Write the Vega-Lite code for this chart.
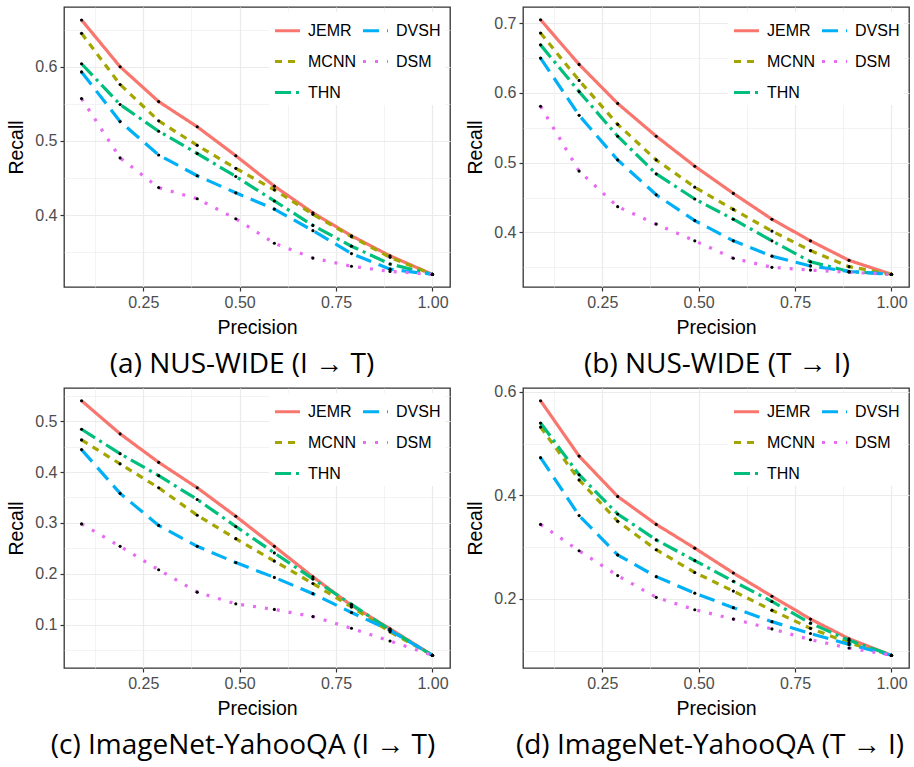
{
"$schema": "https://vega.github.io/schema/vega-lite/v6.json",
"background": "white",
"padding": {"left": 6, "top": 6, "right": 0, "bottom": 0},
"autosize": {"type": "pad"},
"datasets": {"pr": [
{"p":"a","m":"JEMR","x":0.09,"y":0.663},{"p":"a","m":"JEMR","x":0.19,"y":0.600},{"p":"a","m":"JEMR","x":0.29,"y":0.553},{"p":"a","m":"JEMR","x":0.39,"y":0.519},{"p":"a","m":"JEMR","x":0.49,"y":0.480},{"p":"a","m":"JEMR","x":0.59,"y":0.439},{"p":"a","m":"JEMR","x":0.69,"y":0.403},{"p":"a","m":"JEMR","x":0.79,"y":0.372},{"p":"a","m":"JEMR","x":0.89,"y":0.345},{"p":"a","m":"JEMR","x":1.0,"y":0.320},
{"p":"a","m":"MCNN","x":0.09,"y":0.645},{"p":"a","m":"MCNN","x":0.19,"y":0.576},{"p":"a","m":"MCNN","x":0.29,"y":0.527},{"p":"a","m":"MCNN","x":0.39,"y":0.494},{"p":"a","m":"MCNN","x":0.49,"y":0.463},{"p":"a","m":"MCNN","x":0.59,"y":0.434},{"p":"a","m":"MCNN","x":0.69,"y":0.401},{"p":"a","m":"MCNN","x":0.79,"y":0.371},{"p":"a","m":"MCNN","x":0.89,"y":0.343},{"p":"a","m":"MCNN","x":1.0,"y":0.320},
{"p":"a","m":"THN","x":0.09,"y":0.604},{"p":"a","m":"THN","x":0.19,"y":0.549},{"p":"a","m":"THN","x":0.29,"y":0.513},{"p":"a","m":"THN","x":0.39,"y":0.483},{"p":"a","m":"THN","x":0.49,"y":0.452},{"p":"a","m":"THN","x":0.59,"y":0.419},{"p":"a","m":"THN","x":0.69,"y":0.386},{"p":"a","m":"THN","x":0.79,"y":0.358},{"p":"a","m":"THN","x":0.89,"y":0.334},{"p":"a","m":"THN","x":1.0,"y":0.320},
{"p":"a","m":"DVSH","x":0.09,"y":0.593},{"p":"a","m":"DVSH","x":0.19,"y":0.526},{"p":"a","m":"DVSH","x":0.29,"y":0.481},{"p":"a","m":"DVSH","x":0.39,"y":0.453},{"p":"a","m":"DVSH","x":0.49,"y":0.430},{"p":"a","m":"DVSH","x":0.59,"y":0.408},{"p":"a","m":"DVSH","x":0.69,"y":0.379},{"p":"a","m":"DVSH","x":0.79,"y":0.348},{"p":"a","m":"DVSH","x":0.89,"y":0.327},{"p":"a","m":"DVSH","x":1.0,"y":0.320},
{"p":"a","m":"DSM","x":0.09,"y":0.557},{"p":"a","m":"DSM","x":0.19,"y":0.477},{"p":"a","m":"DSM","x":0.29,"y":0.437},{"p":"a","m":"DSM","x":0.39,"y":0.422},{"p":"a","m":"DSM","x":0.49,"y":0.395},{"p":"a","m":"DSM","x":0.59,"y":0.362},{"p":"a","m":"DSM","x":0.69,"y":0.342},{"p":"a","m":"DSM","x":0.79,"y":0.331},{"p":"a","m":"DSM","x":0.89,"y":0.324},{"p":"a","m":"DSM","x":1.0,"y":0.320},
{"p":"b","m":"JEMR","x":0.09,"y":0.705},{"p":"b","m":"JEMR","x":0.19,"y":0.641},{"p":"b","m":"JEMR","x":0.29,"y":0.585},{"p":"b","m":"JEMR","x":0.39,"y":0.538},{"p":"b","m":"JEMR","x":0.49,"y":0.495},{"p":"b","m":"JEMR","x":0.59,"y":0.456},{"p":"b","m":"JEMR","x":0.69,"y":0.419},{"p":"b","m":"JEMR","x":0.79,"y":0.388},{"p":"b","m":"JEMR","x":0.89,"y":0.360},{"p":"b","m":"JEMR","x":1.0,"y":0.340},
{"p":"b","m":"MCNN","x":0.09,"y":0.686},{"p":"b","m":"MCNN","x":0.19,"y":0.618},{"p":"b","m":"MCNN","x":0.29,"y":0.555},{"p":"b","m":"MCNN","x":0.39,"y":0.504},{"p":"b","m":"MCNN","x":0.49,"y":0.465},{"p":"b","m":"MCNN","x":0.59,"y":0.433},{"p":"b","m":"MCNN","x":0.69,"y":0.402},{"p":"b","m":"MCNN","x":0.79,"y":0.374},{"p":"b","m":"MCNN","x":0.89,"y":0.351},{"p":"b","m":"MCNN","x":1.0,"y":0.340},
{"p":"b","m":"THN","x":0.09,"y":0.669},{"p":"b","m":"THN","x":0.19,"y":0.602},{"p":"b","m":"THN","x":0.29,"y":0.538},{"p":"b","m":"THN","x":0.39,"y":0.484},{"p":"b","m":"THN","x":0.49,"y":0.448},{"p":"b","m":"THN","x":0.59,"y":0.419},{"p":"b","m":"THN","x":0.69,"y":0.388},{"p":"b","m":"THN","x":0.79,"y":0.358},{"p":"b","m":"THN","x":0.89,"y":0.344},{"p":"b","m":"THN","x":1.0,"y":0.340},
{"p":"b","m":"DVSH","x":0.09,"y":0.650},{"p":"b","m":"DVSH","x":0.19,"y":0.568},{"p":"b","m":"DVSH","x":0.29,"y":0.504},{"p":"b","m":"DVSH","x":0.39,"y":0.454},{"p":"b","m":"DVSH","x":0.49,"y":0.417},{"p":"b","m":"DVSH","x":0.59,"y":0.388},{"p":"b","m":"DVSH","x":0.69,"y":0.366},{"p":"b","m":"DVSH","x":0.79,"y":0.352},{"p":"b","m":"DVSH","x":0.89,"y":0.344},{"p":"b","m":"DVSH","x":1.0,"y":0.340},
{"p":"b","m":"DSM","x":0.09,"y":0.581},{"p":"b","m":"DSM","x":0.19,"y":0.488},{"p":"b","m":"DSM","x":0.29,"y":0.437},{"p":"b","m":"DSM","x":0.39,"y":0.412},{"p":"b","m":"DSM","x":0.49,"y":0.388},{"p":"b","m":"DSM","x":0.59,"y":0.363},{"p":"b","m":"DSM","x":0.69,"y":0.350},{"p":"b","m":"DSM","x":0.79,"y":0.346},{"p":"b","m":"DSM","x":0.89,"y":0.343},{"p":"b","m":"DSM","x":1.0,"y":0.340},
{"p":"c","m":"JEMR","x":0.09,"y":0.540},{"p":"c","m":"JEMR","x":0.19,"y":0.475},{"p":"c","m":"JEMR","x":0.29,"y":0.419},{"p":"c","m":"JEMR","x":0.39,"y":0.369},{"p":"c","m":"JEMR","x":0.49,"y":0.313},{"p":"c","m":"JEMR","x":0.59,"y":0.254},{"p":"c","m":"JEMR","x":0.69,"y":0.194},{"p":"c","m":"JEMR","x":0.79,"y":0.138},{"p":"c","m":"JEMR","x":0.89,"y":0.092},{"p":"c","m":"JEMR","x":1.0,"y":0.040},
{"p":"c","m":"MCNN","x":0.09,"y":0.463},{"p":"c","m":"MCNN","x":0.19,"y":0.416},{"p":"c","m":"MCNN","x":0.29,"y":0.369},{"p":"c","m":"MCNN","x":0.39,"y":0.315},{"p":"c","m":"MCNN","x":0.49,"y":0.269},{"p":"c","m":"MCNN","x":0.59,"y":0.225},{"p":"c","m":"MCNN","x":0.69,"y":0.181},{"p":"c","m":"MCNN","x":0.79,"y":0.135},{"p":"c","m":"MCNN","x":0.89,"y":0.086},{"p":"c","m":"MCNN","x":1.0,"y":0.040},
{"p":"c","m":"THN","x":0.09,"y":0.484},{"p":"c","m":"THN","x":0.19,"y":0.436},{"p":"c","m":"THN","x":0.29,"y":0.393},{"p":"c","m":"THN","x":0.39,"y":0.346},{"p":"c","m":"THN","x":0.49,"y":0.293},{"p":"c","m":"THN","x":0.59,"y":0.241},{"p":"c","m":"THN","x":0.69,"y":0.190},{"p":"c","m":"THN","x":0.79,"y":0.140},{"p":"c","m":"THN","x":0.89,"y":0.090},{"p":"c","m":"THN","x":1.0,"y":0.040},
{"p":"c","m":"DVSH","x":0.09,"y":0.444},{"p":"c","m":"DVSH","x":0.19,"y":0.358},{"p":"c","m":"DVSH","x":0.29,"y":0.295},{"p":"c","m":"DVSH","x":0.39,"y":0.254},{"p":"c","m":"DVSH","x":0.49,"y":0.222},{"p":"c","m":"DVSH","x":0.59,"y":0.193},{"p":"c","m":"DVSH","x":0.69,"y":0.161},{"p":"c","m":"DVSH","x":0.79,"y":0.124},{"p":"c","m":"DVSH","x":0.89,"y":0.089},{"p":"c","m":"DVSH","x":1.0,"y":0.040},
{"p":"c","m":"DSM","x":0.09,"y":0.298},{"p":"c","m":"DSM","x":0.19,"y":0.254},{"p":"c","m":"DSM","x":0.29,"y":0.208},{"p":"c","m":"DSM","x":0.39,"y":0.164},{"p":"c","m":"DSM","x":0.49,"y":0.141},{"p":"c","m":"DSM","x":0.59,"y":0.130},{"p":"c","m":"DSM","x":0.69,"y":0.116},{"p":"c","m":"DSM","x":0.79,"y":0.093},{"p":"c","m":"DSM","x":0.89,"y":0.068},{"p":"c","m":"DSM","x":1.0,"y":0.040},
{"p":"d","m":"JEMR","x":0.09,"y":0.583},{"p":"d","m":"JEMR","x":0.19,"y":0.476},{"p":"d","m":"JEMR","x":0.29,"y":0.398},{"p":"d","m":"JEMR","x":0.39,"y":0.344},{"p":"d","m":"JEMR","x":0.49,"y":0.298},{"p":"d","m":"JEMR","x":0.59,"y":0.250},{"p":"d","m":"JEMR","x":0.69,"y":0.205},{"p":"d","m":"JEMR","x":0.79,"y":0.161},{"p":"d","m":"JEMR","x":0.89,"y":0.123},{"p":"d","m":"JEMR","x":1.0,"y":0.091},
{"p":"d","m":"MCNN","x":0.09,"y":0.532},{"p":"d","m":"MCNN","x":0.19,"y":0.430},{"p":"d","m":"MCNN","x":0.29,"y":0.350},{"p":"d","m":"MCNN","x":0.39,"y":0.295},{"p":"d","m":"MCNN","x":0.49,"y":0.251},{"p":"d","m":"MCNN","x":0.59,"y":0.215},{"p":"d","m":"MCNN","x":0.69,"y":0.178},{"p":"d","m":"MCNN","x":0.79,"y":0.143},{"p":"d","m":"MCNN","x":0.89,"y":0.115},{"p":"d","m":"MCNN","x":1.0,"y":0.091},
{"p":"d","m":"THN","x":0.09,"y":0.540},{"p":"d","m":"THN","x":0.19,"y":0.440},{"p":"d","m":"THN","x":0.29,"y":0.364},{"p":"d","m":"THN","x":0.39,"y":0.314},{"p":"d","m":"THN","x":0.49,"y":0.274},{"p":"d","m":"THN","x":0.59,"y":0.234},{"p":"d","m":"THN","x":0.69,"y":0.195},{"p":"d","m":"THN","x":0.79,"y":0.153},{"p":"d","m":"THN","x":0.89,"y":0.120},{"p":"d","m":"THN","x":1.0,"y":0.091},
{"p":"d","m":"DVSH","x":0.09,"y":0.473},{"p":"d","m":"DVSH","x":0.19,"y":0.361},{"p":"d","m":"DVSH","x":0.29,"y":0.285},{"p":"d","m":"DVSH","x":0.39,"y":0.243},{"p":"d","m":"DVSH","x":0.49,"y":0.211},{"p":"d","m":"DVSH","x":0.59,"y":0.183},{"p":"d","m":"DVSH","x":0.69,"y":0.156},{"p":"d","m":"DVSH","x":0.79,"y":0.133},{"p":"d","m":"DVSH","x":0.89,"y":0.112},{"p":"d","m":"DVSH","x":1.0,"y":0.091},
{"p":"d","m":"DSM","x":0.09,"y":0.344},{"p":"d","m":"DSM","x":0.19,"y":0.293},{"p":"d","m":"DSM","x":0.29,"y":0.245},{"p":"d","m":"DSM","x":0.39,"y":0.203},{"p":"d","m":"DSM","x":0.49,"y":0.179},{"p":"d","m":"DSM","x":0.59,"y":0.161},{"p":"d","m":"DSM","x":0.69,"y":0.142},{"p":"d","m":"DSM","x":0.79,"y":0.121},{"p":"d","m":"DSM","x":0.89,"y":0.105},{"p":"d","m":"DSM","x":1.0,"y":0.091}
]},
"columns": 2,
"spacing": {"row": 3, "column": 14},
"resolve": {"scale": {"x": "independent", "y": "independent", "color": "independent", "strokeDash": "independent"}},
"concat": [
{
"width": 386, "height": 280,
"title": {"text": "(a) NUS-WIDE (I → T)", "orient": "bottom", "anchor": "middle", "frame": "group", "dx": -15, "offset": 14},
"data": {"name": "pr"},
"transform": [{"filter": "datum.p === 'a'"}],
"encoding": {
"x": {"field": "x", "type": "quantitative", "scale": {"domain": [0.0445, 1.0455], "nice": false, "zero": false},
"axis": {"title": "Precision", "values": [0.125, 0.25, 0.375, 0.5, 0.625, 0.75, 0.875, 1.0], "labelExpr": "abs(datum.value*4 - round(datum.value*4)) < 0.001 ? format(datum.value, '.2f') : ''", "gridWidth": {"condition": {"test": "abs(datum.value*4 - round(datum.value*4)) < 0.001", "value": 1.2}, "value": 0.6}, "tickColor": {"condition": {"test": "abs(datum.value*4 - round(datum.value*4)) < 0.001", "value": "#333333"}, "value": "transparent"}}},
"y": {"field": "y", "type": "quantitative", "scale": {"domain": [0.3030, 0.6805], "nice": false, "zero": false},
"axis": {"title": "Recall", "values": [0.35, 0.4, 0.45, 0.5, 0.55, 0.6, 0.65], "labelExpr": "abs(datum.value*10 - round(datum.value*10)) < 0.001 ? format(datum.value, '.1f') : ''", "gridWidth": {"condition": {"test": "abs(datum.value*10 - round(datum.value*10)) < 0.001", "value": 1.2}, "value": 0.6}, "tickColor": {"condition": {"test": "abs(datum.value*10 - round(datum.value*10)) < 0.001", "value": "#333333"}, "value": "transparent"}}}
},
"layer": [
{"mark": {"type": "line", "strokeWidth": 3.2, "strokeCap": "butt"},
"encoding": {
"color": {"field": "m", "type": "nominal", "scale": {"domain": ["JEMR", "MCNN", "THN", "DVSH", "DSM"], "range": ["#F8766D", "#A3A500", "#00BF7D", "#00B0F6", "#E76BF3"]}, "legend": {"title": null}},
"strokeDash": {"field": "m", "type": "nominal", "scale": {"domain": ["JEMR", "MCNN", "THN", "DVSH", "DSM"], "range": [[1, 0], [7, 6], [16, 5, 3, 5], [16, 8], [3, 9]]}, "legend": {"title": null}}
}},
{"mark": {"type": "point", "filled": true, "color": "black", "size": 10, "opacity": 1}}
]
},
{
"width": 386, "height": 280,
"title": {"text": "(b) NUS-WIDE (T → I)", "orient": "bottom", "anchor": "middle", "frame": "group", "dx": 1, "offset": 14},
"data": {"name": "pr"},
"transform": [{"filter": "datum.p === 'b'"}],
"encoding": {
"x": {"field": "x", "type": "quantitative", "scale": {"domain": [0.0445, 1.0455], "nice": false, "zero": false},
"axis": {"title": "Precision", "values": [0.125, 0.25, 0.375, 0.5, 0.625, 0.75, 0.875, 1.0], "labelExpr": "abs(datum.value*4 - round(datum.value*4)) < 0.001 ? format(datum.value, '.2f') : ''", "gridWidth": {"condition": {"test": "abs(datum.value*4 - round(datum.value*4)) < 0.001", "value": 1.2}, "value": 0.6}, "tickColor": {"condition": {"test": "abs(datum.value*4 - round(datum.value*4)) < 0.001", "value": "#333333"}, "value": "transparent"}}},
"y": {"field": "y", "type": "quantitative", "scale": {"domain": [0.3218, 0.7233], "nice": false, "zero": false},
"axis": {"title": "Recall", "values": [0.35, 0.4, 0.45, 0.5, 0.55, 0.6, 0.65, 0.7], "labelExpr": "abs(datum.value*10 - round(datum.value*10)) < 0.001 ? format(datum.value, '.1f') : ''", "gridWidth": {"condition": {"test": "abs(datum.value*10 - round(datum.value*10)) < 0.001", "value": 1.2}, "value": 0.6}, "tickColor": {"condition": {"test": "abs(datum.value*10 - round(datum.value*10)) < 0.001", "value": "#333333"}, "value": "transparent"}}}
},
"layer": [
{"mark": {"type": "line", "strokeWidth": 3.2, "strokeCap": "butt"},
"encoding": {
"color": {"field": "m", "type": "nominal", "scale": {"domain": ["JEMR", "MCNN", "THN", "DVSH", "DSM"], "range": ["#F8766D", "#A3A500", "#00BF7D", "#00B0F6", "#E76BF3"]}, "legend": {"title": null}},
"strokeDash": {"field": "m", "type": "nominal", "scale": {"domain": ["JEMR", "MCNN", "THN", "DVSH", "DSM"], "range": [[1, 0], [7, 6], [16, 5, 3, 5], [16, 8], [3, 9]]}, "legend": {"title": null}}
}},
{"mark": {"type": "point", "filled": true, "color": "black", "size": 10, "opacity": 1}}
]
},
{
"width": 386, "height": 280,
"title": {"text": "(c) ImageNet-YahooQA (I → T)", "orient": "bottom", "anchor": "middle", "frame": "group", "dx": -14, "offset": 14},
"data": {"name": "pr"},
"transform": [{"filter": "datum.p === 'c'"}],
"encoding": {
"x": {"field": "x", "type": "quantitative", "scale": {"domain": [0.0445, 1.0455], "nice": false, "zero": false},
"axis": {"title": "Precision", "values": [0.125, 0.25, 0.375, 0.5, 0.625, 0.75, 0.875, 1.0], "labelExpr": "abs(datum.value*4 - round(datum.value*4)) < 0.001 ? format(datum.value, '.2f') : ''", "gridWidth": {"condition": {"test": "abs(datum.value*4 - round(datum.value*4)) < 0.001", "value": 1.2}, "value": 0.6}, "tickColor": {"condition": {"test": "abs(datum.value*4 - round(datum.value*4)) < 0.001", "value": "#333333"}, "value": "transparent"}}},
"y": {"field": "y", "type": "quantitative", "scale": {"domain": [0.015, 0.565], "nice": false, "zero": false},
"axis": {"title": "Recall", "values": [0.05, 0.1, 0.15, 0.2, 0.25, 0.3, 0.35, 0.4, 0.45, 0.5, 0.55], "labelExpr": "abs(datum.value*10 - round(datum.value*10)) < 0.001 ? format(datum.value, '.1f') : ''", "gridWidth": {"condition": {"test": "abs(datum.value*10 - round(datum.value*10)) < 0.001", "value": 1.2}, "value": 0.6}, "tickColor": {"condition": {"test": "abs(datum.value*10 - round(datum.value*10)) < 0.001", "value": "#333333"}, "value": "transparent"}}}
},
"layer": [
{"mark": {"type": "line", "strokeWidth": 3.2, "strokeCap": "butt"},
"encoding": {
"color": {"field": "m", "type": "nominal", "scale": {"domain": ["JEMR", "MCNN", "THN", "DVSH", "DSM"], "range": ["#F8766D", "#A3A500", "#00BF7D", "#00B0F6", "#E76BF3"]}, "legend": {"title": null}},
"strokeDash": {"field": "m", "type": "nominal", "scale": {"domain": ["JEMR", "MCNN", "THN", "DVSH", "DSM"], "range": [[1, 0], [7, 6], [16, 5, 3, 5], [16, 8], [3, 9]]}, "legend": {"title": null}}
}},
{"mark": {"type": "point", "filled": true, "color": "black", "size": 10, "opacity": 1}}
]
},
{
"width": 386, "height": 280,
"title": {"text": "(d) ImageNet-YahooQA (T → I)", "orient": "bottom", "anchor": "middle", "frame": "group", "dx": -6, "offset": 14},
"data": {"name": "pr"},
"transform": [{"filter": "datum.p === 'd'"}],
"encoding": {
"x": {"field": "x", "type": "quantitative", "scale": {"domain": [0.0445, 1.0455], "nice": false, "zero": false},
"axis": {"title": "Precision", "values": [0.125, 0.25, 0.375, 0.5, 0.625, 0.75, 0.875, 1.0], "labelExpr": "abs(datum.value*4 - round(datum.value*4)) < 0.001 ? format(datum.value, '.2f') : ''", "gridWidth": {"condition": {"test": "abs(datum.value*4 - round(datum.value*4)) < 0.001", "value": 1.2}, "value": 0.6}, "tickColor": {"condition": {"test": "abs(datum.value*4 - round(datum.value*4)) < 0.001", "value": "#333333"}, "value": "transparent"}}},
"y": {"field": "y", "type": "quantitative", "scale": {"domain": [0.0664, 0.6076], "nice": false, "zero": false},
"axis": {"title": "Recall", "values": [0.1, 0.2, 0.3, 0.4, 0.5, 0.6], "labelExpr": "abs(datum.value*5 - round(datum.value*5)) < 0.001 ? format(datum.value, '.1f') : ''", "gridWidth": {"condition": {"test": "abs(datum.value*5 - round(datum.value*5)) < 0.001", "value": 1.2}, "value": 0.6}, "tickColor": {"condition": {"test": "abs(datum.value*5 - round(datum.value*5)) < 0.001", "value": "#333333"}, "value": "transparent"}}}
},
"layer": [
{"mark": {"type": "line", "strokeWidth": 3.2, "strokeCap": "butt"},
"encoding": {
"color": {"field": "m", "type": "nominal", "scale": {"domain": ["JEMR", "MCNN", "THN", "DVSH", "DSM"], "range": ["#F8766D", "#A3A500", "#00BF7D", "#00B0F6", "#E76BF3"]}, "legend": {"title": null}},
"strokeDash": {"field": "m", "type": "nominal", "scale": {"domain": ["JEMR", "MCNN", "THN", "DVSH", "DSM"], "range": [[1, 0], [7, 6], [16, 5, 3, 5], [16, 8], [3, 9]]}, "legend": {"title": null}}
}},
{"mark": {"type": "point", "filled": true, "color": "black", "size": 10, "opacity": 1}}
]
}
],
"config": {
"view": {"stroke": "#333333", "strokeWidth": 1.3, "fill": "white"},
"axis": {"domain": false, "tickSize": 4, "tickWidth": 1.2, "labelFont": "Liberation Sans", "labelFontSize": 16, "labelColor": "#4D4D4D", "labelPadding": 3, "labelFlush": false, "labelOverlap": false, "titleFont": "Liberation Sans", "titleFontSize": 19.5, "titleFontWeight": "normal", "titleColor": "black", "titlePadding": 8, "gridColor": "#EBEBEB"},
"legend": {"orient": "top-right", "columns": 2, "symbolType": "stroke", "symbolSize": 625, "symbolStrokeWidth": 3.2, "labelFont": "Liberation Sans", "labelFontSize": 16, "labelColor": "black", "rowPadding": 8, "columnPadding": 0, "labelOffset": 6, "fillColor": "white", "padding": 4, "offset": 5},
"title": {"font": "Open Sans", "fontSize": 28, "fontWeight": "normal", "color": "black"}
}
}
